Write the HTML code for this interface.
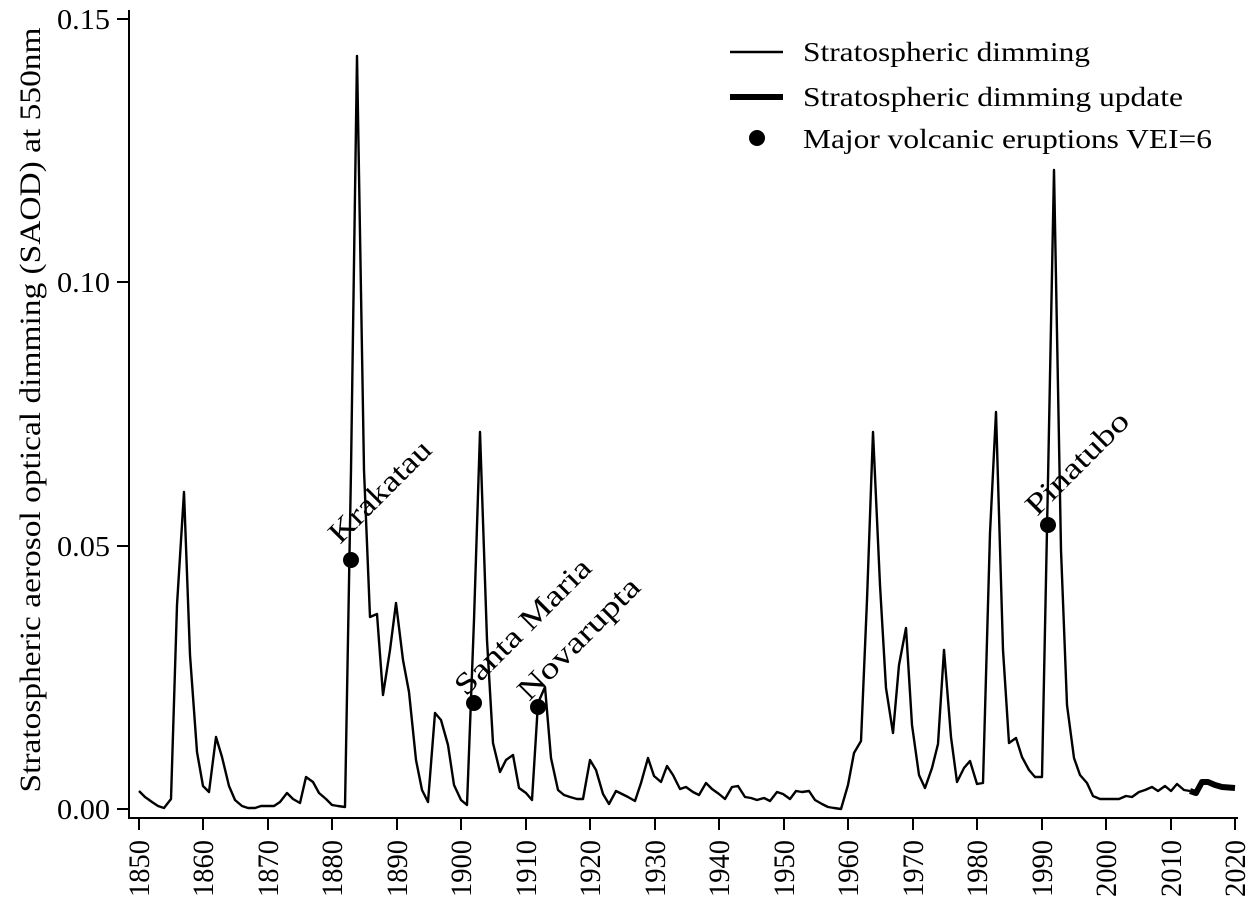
<!DOCTYPE html>
<html><head><meta charset="utf-8"><style>
html,body{margin:0;padding:0;background:#fff;}
svg{display:block;}
text{font-family:"Liberation Serif",serif;fill:#000;}
</style></head><body>
<svg width="1250" height="908" viewBox="0 0 1250 908" xmlns="http://www.w3.org/2000/svg">
<line x1="129" y1="10" x2="129" y2="819" stroke="#000" stroke-width="2"/>
<line x1="128" y1="818" x2="1238" y2="818" stroke="#000" stroke-width="2"/>
<g stroke="#000" stroke-width="2">
<line x1="117" y1="809" x2="129" y2="809"/>
<line x1="117" y1="546" x2="129" y2="546"/>
<line x1="117" y1="282" x2="129" y2="282"/>
<line x1="117" y1="19" x2="129" y2="19"/>
</g>
<g font-size="29" text-anchor="end">
<text x="110" y="819" textLength="53" lengthAdjust="spacingAndGlyphs">0.00</text>
<text x="110" y="556" textLength="53" lengthAdjust="spacingAndGlyphs">0.05</text>
<text x="110" y="292" textLength="53" lengthAdjust="spacingAndGlyphs">0.10</text>
<text x="110" y="29" textLength="53" lengthAdjust="spacingAndGlyphs">0.15</text>
</g>
<g stroke="#000" stroke-width="2">
<line x1="139" y1="818" x2="139" y2="830"/><line x1="203" y1="818" x2="203" y2="830"/>
<line x1="268" y1="818" x2="268" y2="830"/><line x1="332" y1="818" x2="332" y2="830"/>
<line x1="397" y1="818" x2="397" y2="830"/><line x1="461" y1="818" x2="461" y2="830"/>
<line x1="526" y1="818" x2="526" y2="830"/><line x1="590" y1="818" x2="590" y2="830"/>
<line x1="655" y1="818" x2="655" y2="830"/><line x1="719" y1="818" x2="719" y2="830"/>
<line x1="784" y1="818" x2="784" y2="830"/><line x1="848" y1="818" x2="848" y2="830"/>
<line x1="913" y1="818" x2="913" y2="830"/><line x1="977" y1="818" x2="977" y2="830"/>
<line x1="1042" y1="818" x2="1042" y2="830"/><line x1="1106" y1="818" x2="1106" y2="830"/>
<line x1="1171" y1="818" x2="1171" y2="830"/><line x1="1235" y1="818" x2="1235" y2="830"/>
</g>
<g font-size="30" text-anchor="end">
<text transform="translate(149,840) rotate(-90)" textLength="57" lengthAdjust="spacingAndGlyphs">1850</text>
<text transform="translate(213,840) rotate(-90)" textLength="57" lengthAdjust="spacingAndGlyphs">1860</text>
<text transform="translate(278,840) rotate(-90)" textLength="57" lengthAdjust="spacingAndGlyphs">1870</text>
<text transform="translate(342,840) rotate(-90)" textLength="57" lengthAdjust="spacingAndGlyphs">1880</text>
<text transform="translate(407,840) rotate(-90)" textLength="57" lengthAdjust="spacingAndGlyphs">1890</text>
<text transform="translate(471,840) rotate(-90)" textLength="57" lengthAdjust="spacingAndGlyphs">1900</text>
<text transform="translate(536,840) rotate(-90)" textLength="57" lengthAdjust="spacingAndGlyphs">1910</text>
<text transform="translate(600,840) rotate(-90)" textLength="57" lengthAdjust="spacingAndGlyphs">1920</text>
<text transform="translate(665,840) rotate(-90)" textLength="57" lengthAdjust="spacingAndGlyphs">1930</text>
<text transform="translate(729,840) rotate(-90)" textLength="57" lengthAdjust="spacingAndGlyphs">1940</text>
<text transform="translate(794,840) rotate(-90)" textLength="57" lengthAdjust="spacingAndGlyphs">1950</text>
<text transform="translate(858,840) rotate(-90)" textLength="57" lengthAdjust="spacingAndGlyphs">1960</text>
<text transform="translate(923,840) rotate(-90)" textLength="57" lengthAdjust="spacingAndGlyphs">1970</text>
<text transform="translate(987,840) rotate(-90)" textLength="57" lengthAdjust="spacingAndGlyphs">1980</text>
<text transform="translate(1052,840) rotate(-90)" textLength="57" lengthAdjust="spacingAndGlyphs">1990</text>
<text transform="translate(1116,840) rotate(-90)" textLength="57" lengthAdjust="spacingAndGlyphs">2000</text>
<text transform="translate(1181,840) rotate(-90)" textLength="57" lengthAdjust="spacingAndGlyphs">2010</text>
<text transform="translate(1245,840) rotate(-90)" textLength="57" lengthAdjust="spacingAndGlyphs">2020</text>
</g>
<text font-size="30" text-anchor="middle" transform="translate(40,410) rotate(-90)" textLength="765" lengthAdjust="spacingAndGlyphs">Stratospheric aerosol optical dimming (SAOD) at 550nm</text>
<polyline fill="none" stroke="#000" stroke-width="2.4" stroke-linejoin="round" points="
139,791 145,797 152,802 158,806 164,808 171,799 177,605 184,492 190,655 197,752 203,786 209,792 216,737 222,757 229,786 235,800 242,806 248,808 255,808 261,806 268,806 274,806 280,802 287,793 293,799 300,803 306,777 313,782 319,793 326,799 332,805 338,806 345,807 351,470 357,56 364,470 370,617 377,614 383,695 390,650 396,603 403,660 409,692 416,760 422,790 428,802 435,713 441,720 448,745 454,785 461,800 467,805 474,620 480,432 487,640 493,743 500,772 506,760 513,755 519,788 526,793 532,800 538,703 545,687 551,758 558,790 564,795 570,797 577,799 583,799 590,760 596,770 603,794 609,804 616,791 622,794 628,797 635,801 641,783 648,758 654,776 661,782 667,766 673,775 680,789 686,787 693,792 699,795 706,783 712,789 719,794 725,799 732,787 738,786 745,797 751,798 757,800 764,798 770,801 777,792 783,794 790,799 796,791 802,792 809,791 815,800 822,804 828,807 834,808 841,809 848,785 854,753 861,741 867,600 873,432 880,585 886,688 893,733 899,665 906,628 912,725 919,775 925,788 932,768 938,744 944,650 951,737 957,782 964,768 970,761 977,784 983,783 990,533 996,412 1003,650 1009,743 1016,738 1022,757 1029,770 1035,777 1042,777 1048,480 1054,170 1061,550 1067,705 1074,758 1080,775 1087,783 1093,796 1100,799 1106,799 1113,799 1119,799 1126,796 1132,797 1139,792 1145,790 1152,787 1158,791 1165,786 1171,791 1177,784 1184,790 1190,791"/>
<polyline fill="none" stroke="#000" stroke-width="6" stroke-linejoin="round" points="1190,791 1196,793 1202,782 1208,782 1215,785 1222,787 1235,788"/>
<circle cx="351" cy="560" r="8"/>
<circle cx="474" cy="703" r="8"/>
<circle cx="538" cy="707" r="8"/>
<circle cx="1048" cy="525" r="8"/>
<g font-size="30">
<text transform="translate(340,545) rotate(-45)" textLength="132" lengthAdjust="spacingAndGlyphs">Krakatau</text>
<text transform="translate(466,697) rotate(-45)" textLength="180" lengthAdjust="spacingAndGlyphs">Santa Maria</text>
<text transform="translate(529,702) rotate(-45)" textLength="160" lengthAdjust="spacingAndGlyphs">Novarupta</text>
<text transform="translate(1037,517) rotate(-45)" textLength="133" lengthAdjust="spacingAndGlyphs">Pinatubo</text>
</g>
<line x1="730" y1="52" x2="783" y2="52" stroke="#000" stroke-width="2.4"/>
<line x1="730" y1="97" x2="783" y2="97" stroke="#000" stroke-width="6"/>
<circle cx="757" cy="138" r="8"/>
<g font-size="27">
<text x="803" y="61" textLength="287" lengthAdjust="spacingAndGlyphs">Stratospheric dimming</text>
<text x="803" y="106" textLength="380" lengthAdjust="spacingAndGlyphs">Stratospheric dimming update</text>
<text x="803" y="148" textLength="409" lengthAdjust="spacingAndGlyphs">Major volcanic eruptions VEI=6</text>
</g>
</svg>
</body></html>
